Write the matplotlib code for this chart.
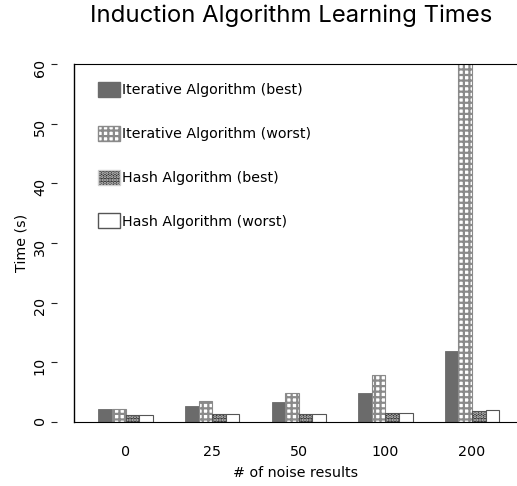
import numpy as np
import matplotlib
matplotlib.use("Agg")
from matplotlib import pyplot as plt
from matplotlib.patches import Patch

# data
noise = ["0", "25", "50", "100", "200"]
iter_best = [2.2, 2.7, 3.35, 4.85, 11.9]
iter_worst = [2.2, 3.5, 4.8, 7.9, 66.0]
hash_best = [1.1, 1.4, 1.4, 1.55, 1.8]
hash_worst = [1.1, 1.4, 1.4, 1.55, 2.0]
series = ["Iterative Algorithm (best)", "Iterative Algorithm (worst)",
          "Hash Algorithm (best)", "Hash Algorithm (worst)"]

plt.rcParams['font.family'] = ['DejaVu Sans']
plt.rcParams['hatch.linewidth'] = 1.6

fig = plt.figure(figsize=(5.17, 4.86), dpi=100)
ax = fig.add_axes([0.143, 0.132, 0.857, 0.736])

x = np.arange(len(noise))
w = 0.157
edge = '#555555'
fs = 10.3

ax.bar(x - 1.5*w, iter_best, w, color='#6b6b6b', edgecolor='#6b6b6b', lw=0.6)
ax.bar(x - 0.5*w, iter_worst, w, color='white', edgecolor='#8a8a8a', hatch='+++', lw=0.8)
ax.bar(x + 0.5*w, hash_best, w, color='#2e2e2e', edgecolor='none', lw=0)
ax.bar(x + 0.5*w, hash_best, w, color='none', edgecolor='#d0d0d0', hatch='.....', lw=0)
ax.bar(x + 0.5*w, hash_best, w, color='none', edgecolor=edge, lw=0.8)
ax.bar(x + 1.5*w, hash_worst, w, color='white', edgecolor=edge, lw=0.8)

ax.set_xlim(-0.597, 4.52)
ax.set_ylim(0, 60)
ax.set_yticks(range(0, 61, 10))
ax.set_xticks(x)
ax.set_xticklabels(noise)
ax.tick_params(axis='y', length=4.5, width=0.8, labelsize=fs, pad=3, color='#222222',
               labelrotation=90)
for lab in ax.get_yticklabels():
    lab.set_va('center')
ax.tick_params(axis='x', length=0, labelsize=fs, pad=17)

ax.spines['left'].set_position(('outward', 12))
ax.spines['left'].set_visible(False)
ax.spines['right'].set_visible(False)
ax.plot([0, 0], [0, 1], transform=ax.transAxes, color='black', lw=1.0, clip_on=False)

ax.set_ylabel("Time (s)", fontsize=fs, labelpad=3)
ax.set_xlabel("# of noise results", fontsize=fs, labelpad=5)
fig.text(0.564, 0.954, "Induction Algorithm Learning Times", ha='center', va='baseline',
         fontsize=17.2, family='Inter')

handles = [
    Patch(facecolor='#6b6b6b', edgecolor='#6b6b6b'),
    Patch(facecolor='white', edgecolor='#8a8a8a', hatch='+++'),
    Patch(facecolor='#2e2e2e', edgecolor='#d0d0d0', hatch='.....'),
    Patch(facecolor='white', edgecolor=edge),
]
ax.legend(handles, series, loc='upper left', bbox_to_anchor=(0.054, 0.95), frameon=False,
          fontsize=fs, labelspacing=1.98, handlelength=1.54, handleheight=1.26,
          handletextpad=0.15, borderpad=0, borderaxespad=0)

fig.savefig("out.png", dpi=100)
